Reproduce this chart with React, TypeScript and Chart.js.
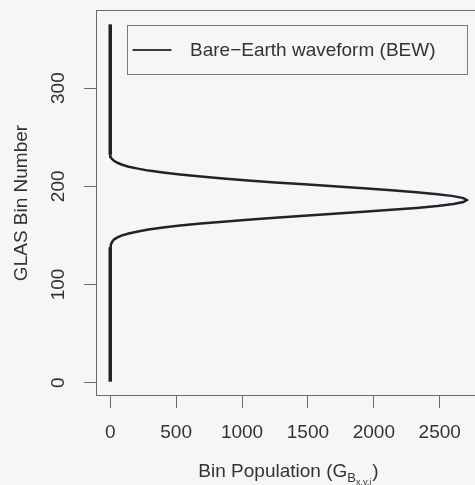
import React, { useEffect, useRef } from "react";
import { Chart, registerables } from "chart.js";

Chart.register(...registerables);

// GLAS bin numbers (vertical) and the bare-earth waveform population in each bin
const binNumber = [
  1, 138, 140, 142, 144, 146, 148, 150, 152, 154, 156, 158, 160, 162, 164, 166,
  168, 170, 172, 174, 176, 178, 180, 182, 184, 186, 188, 190, 192, 194, 196,
  198, 200, 202, 204, 206, 208, 210, 212, 214, 216, 218, 220, 222, 224, 226,
  228, 230, 232, 365,
];
const binPopulation = [
  0, 0, 4, 9, 18, 30, 55, 90, 140, 210, 290, 400, 530, 688, 856, 1045, 1252,
  1472, 1697, 1921, 2133, 2323, 2483, 2604, 2679, 2705, 2679, 2604, 2483, 2323,
  2133, 1921, 1697, 1472, 1252, 1045, 856, 688, 530, 400, 290, 210, 140, 90, 55,
  28, 12, 3, 0, 0,
];

const xTicks = [0, 500, 1000, 1500, 2000, 2500];
const yTicks = [0, 100, 200, 300];

const seriesLabel = "Bare\u2212Earth waveform (BEW)";
const xTitleMain = "Bin Population (G";
const xTitleSub = "B";
const xTitleSubSub = "x,y,i";
const yTitle = "GLAS Bin Number";

const FONT = "'Liberation Sans', Arial, Helvetica, sans-serif";
const TEXT = "#333333";
const LINE = "#22222c";
const FRAME = "#6a6a6a";
const BG = "#f6f6f6";

const backgroundPlugin = {
  id: "bgFill",
  beforeDraw(chart: any) {
    const { ctx, width, height } = chart;
    ctx.save();
    ctx.fillStyle = BG;
    ctx.fillRect(0, 0, width, height);
    ctx.restore();
  },
};

const framePlugin = {
  id: "frameAndLegend",
  afterDraw(chart: any) {
    const { ctx, chartArea } = chart;
    const { left, top, right, bottom } = chartArea;
    ctx.save();
    // plot box
    ctx.strokeStyle = FRAME;
    ctx.lineWidth = 1;
    ctx.strokeRect(left + 0.5, top + 0.5, right - left - 1, bottom - top - 1);

    // boxed legend in the upper part of the plot
    const lx = left + 31;
    const ly = top + 15;
    const lw = right - 14 - lx;
    const lh = 49;
    ctx.strokeStyle = "#7a7a7a";
    ctx.strokeRect(lx + 0.5, ly + 0.5, lw, lh);
    ctx.strokeStyle = "#3a3a44";
    ctx.lineWidth = 2;
    ctx.beginPath();
    ctx.moveTo(lx + 5.5, ly + lh / 2 + 0.5);
    ctx.lineTo(lx + 44.5, ly + lh / 2 + 0.5);
    ctx.stroke();
    ctx.fillStyle = TEXT;
    ctx.font = `19px ${FONT}`;
    ctx.textBaseline = "middle";
    ctx.textAlign = "left";
    ctx.fillText(chart.data.datasets[0].label, lx + 63, ly + lh / 2 + 1);

    // x axis title with nested subscripts
    const f1 = `19px ${FONT}`;
    const f2 = `13px ${FONT}`;
    const f3 = `9px ${FONT}`;
    ctx.font = f1;
    const w1 = ctx.measureText(xTitleMain).width;
    const wClose = ctx.measureText(")").width;
    ctx.font = f2;
    const w2 = ctx.measureText(xTitleSub).width;
    ctx.font = f3;
    const w3 = ctx.measureText(xTitleSubSub).width;
    const total = w1 + w2 + w3 + wClose + 1;
    const cx = (left + right) / 2;
    let x = cx - total / 2;
    const base = 476.5;
    ctx.textBaseline = "alphabetic";
    ctx.font = f1;
    ctx.fillText(xTitleMain, x, base);
    x += w1;
    ctx.font = f2;
    ctx.fillText(xTitleSub, x, base + 5);
    x += w2;
    ctx.font = f3;
    ctx.fillText(xTitleSubSub, x, base + 8);
    x += w3 + 1;
    ctx.font = f1;
    ctx.fillText(")", x, base);
    ctx.restore();
  },
};

export default function App() {
  const canvasRef = useRef<HTMLCanvasElement | null>(null);

  useEffect(() => {
    const canvas = canvasRef.current;
    if (!canvas) return;
    const points = binNumber.map((b, i) => ({ x: binPopulation[i], y: b }));

    const chart = new Chart(canvas, {
      type: "scatter",
      data: {
        datasets: [
          {
            label: seriesLabel,
            data: points,
            showLine: true,
            borderColor: LINE,
            borderWidth: 2.5,
            pointRadius: 0,
            fill: false,
            segment: {
              borderWidth: (ctx: any) =>
                ctx.p0.parsed.x === 0 && ctx.p1.parsed.x === 0 ? 3.5 : 2.5,
            },
          },
        ],
      },
      options: {
        responsive: false,
        animation: false,
        devicePixelRatio: 1,
        layout: { padding: { top: 10, right: 9, left: 0, bottom: 0 } },
        plugins: {
          legend: { display: false },
          tooltip: { enabled: false },
        },
        scales: {
          x: {
            type: "linear",
            min: -108,
            max: 2813,
            afterBuildTicks: (scale: any) => {
              scale.ticks = xTicks.map((v) => ({ value: v }));
            },
            afterFit: (scale: any) => {
              scale.height = 89;
              scale.paddingLeft = 0;
              scale.paddingRight = 0;
            },
            border: { display: false },
            grid: {
              display: true,
              drawOnChartArea: false,
              drawTicks: true,
              tickLength: 12,
              color: FRAME,
              lineWidth: 1,
            },
            ticks: {
              color: TEXT,
              font: { family: FONT, size: 19 },
              padding: 13,
              maxRotation: 0,
              autoSkip: false,
              callback: (v: any) => String(v),
            },
          },
          y: {
            type: "linear",
            min: -13.6,
            max: 379.6,
            afterBuildTicks: (scale: any) => {
              scale.ticks = yTicks.map((v) => ({ value: v }));
            },
            afterFit: (scale: any) => {
              scale.width = 96;
              scale.paddingTop = 0;
              scale.paddingBottom = 0;
            },
            border: { display: false },
            grid: {
              display: true,
              drawOnChartArea: false,
              drawTicks: true,
              tickLength: 12,
              color: FRAME,
              lineWidth: 1,
            },
            ticks: {
              color: TEXT,
              font: { family: FONT, size: 19 },
              padding: 9,
              minRotation: 90,
              maxRotation: 90,
              crossAlign: "center",
              autoSkip: false,
              callback: (v: any) => String(v),
            },
            title: {
              display: true,
              text: yTitle,
              color: TEXT,
              font: { family: FONT, size: 19 },
              padding: { top: 10, bottom: 0 },
            },
          },
        },
      },
      plugins: [backgroundPlugin, framePlugin],
    } as any);

    return () => chart.destroy();
  }, []);

  return (
    <div
      style={{
        position: "fixed",
        left: 0,
        top: 0,
        width: 475,
        height: 485,
        overflow: "hidden",
        background: BG,
      }}
    >
      <canvas
        ref={canvasRef}
        width={490}
        height={485}
        style={{ width: 490, height: 485, display: "block" }}
      />
    </div>
  );
}
